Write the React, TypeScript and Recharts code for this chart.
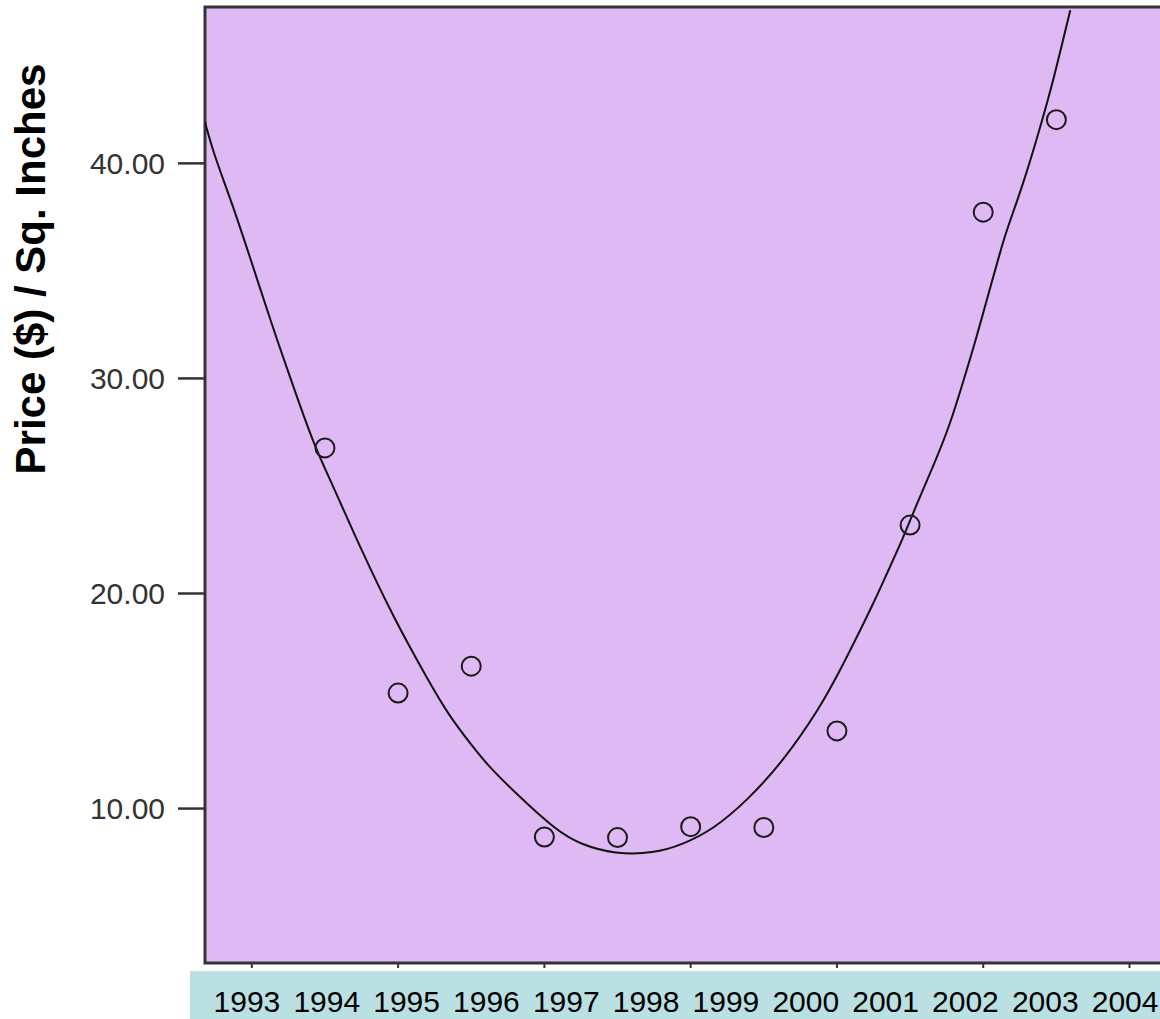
import { ComposedChart, XAxis, YAxis, Line, Scatter, ReferenceArea, Label } from "recharts";

// observed prices, one per point (x = point index)
const pointX = [1, 2, 3, 4, 5, 6, 7, 8, 9, 10, 11];
const prices = [26.77, 15.37, 16.62, 8.68, 8.65, 9.16, 9.12, 13.61, 23.18, 37.73, 42.03];

// fitted curve
const fitX = [-0.64, -0.53, -0.3, -0.07, 0.3, 0.52, 0.84, 1.12, 1.48, 1.96, 2.39, 2.71, 3.05, 3.21, 3.62, 4.17, 4.49, 4.97, 5.49, 5.9, 6.31, 6.77, 7.27, 7.77, 8.04, 8.27, 8.5, 8.68, 8.91, 9.09, 9.34, 9.55, 9.73, 9.89, 10.09, 10.23, 10.32, 10.55, 10.78, 10.96, 11.19];
const fitY = [41.92, 40.53, 38.43, 36.11, 32.23, 30.1, 26.96, 24.94, 22.14, 18.73, 16.1, 14.23, 12.76, 12.07, 10.67, 8.96, 8.34, 7.88, 7.91, 8.34, 9.04, 10.36, 12.22, 14.7, 16.41, 17.96, 19.55, 20.91, 22.61, 24.16, 26.1, 27.89, 29.9, 31.68, 34.17, 35.85, 36.9, 39.06, 41.69, 43.86, 47.12];

const years = ["1993", "1994", "1995", "1996", "1997", "1998", "1999", "2000", "2001", "2002", "2003", "2004"];
const xTicks = [0, 2, 4, 6, 8, 10, 12];
const yTicks = [10, 20, 30, 40];

const X_MIN = -0.64;
const X_MAX = 12.54;
const Y_MIN = 2.82;
const Y_MAX = 47.27;

const points = pointX.map((x, i) => ({ x, price: prices[i] }));
const fit = fitX.map((x, i) => ({ x, value: fitY[i] }));
const yearTicks = years.map((_, i) => i + 0.5);
// anchors the year-label axis so recharts builds its scale
const yearAnchors = yearTicks.map((pos) => ({ pos, price: Y_MIN }));

const Ring = (props: any) => (
  <circle cx={props.cx} cy={props.cy} r={9.5} fill="none" stroke="#1a1a1a" strokeWidth={2} />
);

const Nothing = () => <g />;

const YTitle = () => (
  <text
    x={45}
    y={269}
    transform="rotate(-90 45 269)"
    textAnchor="middle"
    fontFamily="Liberation Sans, Arial, sans-serif"
    fontWeight="bold"
    fontSize={42}
    fill="#000"
  >
    Price ($) / Sq. Inches
  </text>
);

export default function App() {
  return (
    <div style={{ position: "absolute", left: 0, top: 0, width: 1160, height: 1019, overflow: "hidden", background: "#fff" }}>
      <div style={{ position: "absolute", left: 190, top: 971, width: 970, height: 48, background: "#bbe0e3" }} />
      <div style={{ position: "absolute", left: 0, top: 0 }}>
        <ComposedChart width={1169} height={1019} margin={{ top: 7, right: 0, bottom: 0, left: 0 }}>
          <ReferenceArea
            x1={X_MIN}
            x2={X_MAX}
            y1={Y_MIN}
            y2={Y_MAX}
            fill="#dfb9f3"
            fillOpacity={1}
            stroke="#333"
            strokeWidth={3}
          />
          <XAxis
            dataKey="x"
            type="number"
            domain={[X_MIN, X_MAX]}
            ticks={xTicks}
            allowDataOverflow
            height={8}
            tickSize={5}
            tick={() => <g />}
            axisLine={false}
            tickLine={{ stroke: "#333", strokeWidth: 2 }}
          />
          <XAxis
            xAxisId="band"
            dataKey="pos"
            type="number"
            domain={[0, 12]}
            allowDataOverflow
            ticks={yearTicks}
            padding={{ left: 2, right: 4 }}
            height={48}
            tickSize={0}
            tickMargin={20}
            axisLine={false}
            tickLine={false}
            interval={0}
            tickFormatter={(v: number) => years[Math.floor(v)]}
            tick={{ fill: "#000", fontSize: 30, fontFamily: "Liberation Sans, Arial, sans-serif" }}
          />
          <YAxis
            type="number"
            domain={[Y_MIN, Y_MAX]}
            ticks={yTicks}
            allowDataOverflow
            width={205}
            tickSize={27}
            tickMargin={13}
            axisLine={false}
            tickLine={{ stroke: "#333", strokeWidth: 2.5 }}
            tickFormatter={(v: number) => v.toFixed(2)}
            tick={{ fill: "#333", fontSize: 30, fontFamily: "Liberation Sans, Arial, sans-serif" }}
          >
            <Label content={YTitle} />
          </YAxis>
          <Line
            data={fit}
            dataKey="value"
            type="basis"
            stroke="#111"
            strokeWidth={2}
            dot={false}
            isAnimationActive={false}
          />
          <Scatter data={points} dataKey="price" shape={Ring} isAnimationActive={false} />
          <Scatter
            xAxisId="band"
            data={yearAnchors}
            dataKey="price"
            shape={Nothing}
            legendType="none"
            isAnimationActive={false}
          />
        </ComposedChart>
      </div>
    </div>
  );
}
